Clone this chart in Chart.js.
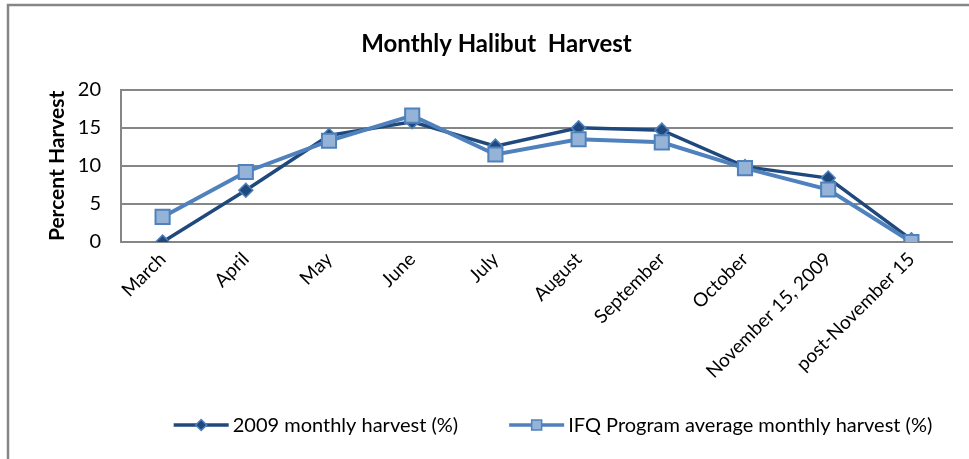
<!DOCTYPE html>
<html>
<head>
<meta charset="utf-8">
<script src="https://cdn.jsdelivr.net/npm/chart.js@4/dist/chart.umd.min.js"></script>
<style>
  html, body { margin: 0; padding: 0; background: #fff; }
  #wrap { width: 969px; height: 459px; position: relative; }
</style>
</head>
<body>
<div id="wrap"><canvas id="harvestChart"></canvas></div>
<script>
const months = ['March', 'April', 'May', 'June', 'July', 'August', 'September', 'October', 'November 15, 2009', 'post-November 15'];
const harvest2009 = [0, 6.8, 14.0, 15.8, 12.6, 15.0, 14.7, 9.9, 8.4, 0.3];
const ifqAverage = [3.3, 9.2, 13.3, 16.6, 11.5, 13.5, 13.1, 9.7, 6.9, 0];
const yTicks = [0, 5, 10, 15, 20];

const FONT = "Lato, 'Open Sans', sans-serif";
const gridGray = '#868686';

// gray frame round the whole chart (cut off at right and bottom)
const frame = {
    id: 'frame',
    beforeDraw(chart) {
        const ctx = chart.ctx;
        ctx.save();
        ctx.strokeStyle = gridGray;
        ctx.lineWidth = 2.5;
        ctx.strokeRect(8, 5, 1000, 500);
        ctx.restore();
    }
};

// excel style legend: line with marker, then text
const lineLegend = {
    id: 'lineLegend',
    afterDraw(chart) {
        const ctx = chart.ctx;
        const sets = chart.data.datasets;
        const swW = 55, gap = 4, itemGap = 51;
        ctx.save();
        ctx.font = '20px ' + FONT;
        const widths = sets.map(ds => ctx.measureText(ds.label).width);
        const total = widths.reduce((a, w) => a + swW + gap + w, 0) + itemGap * (sets.length - 1);
        let x = 553 - total / 2;
        const y = 425;
        sets.forEach((ds, i) => {
            ctx.strokeStyle = ds.borderColor;
            ctx.lineWidth = 3.5;
            ctx.beginPath(); ctx.moveTo(x, y); ctx.lineTo(x + swW, y); ctx.stroke();
            const cx = x + swW / 2;
            ctx.fillStyle = ds.pointBackgroundColor;
            ctx.strokeStyle = ds.pointBorderColor;
            ctx.lineWidth = 1.5;
            ctx.beginPath();
            if (ds.pointStyle === 'rectRot') {
                ctx.moveTo(cx, y - 5.5); ctx.lineTo(cx + 5.5, y); ctx.lineTo(cx, y + 5.5); ctx.lineTo(cx - 5.5, y); ctx.closePath();
            } else {
                ctx.rect(cx - 5, y - 5, 10, 10);
            }
            ctx.fill(); ctx.stroke();
            ctx.fillStyle = '#000';
            ctx.textBaseline = 'middle';
            ctx.fillText(ds.label, x + swW + gap, y + 1);
            x += swW + gap + widths[i] + itemGap;
        });
        ctx.restore();
    }
};

new Chart(document.getElementById('harvestChart'), {
    type: 'line',
    data: {
        labels: months,
        datasets: [{
            label: '2009 monthly harvest (%)',
            data: harvest2009,
            borderColor: '#1F497D',
            borderWidth: 3.5,
            pointStyle: 'rectRot',
            pointRadius: 7,
            pointBackgroundColor: '#1F497D',
            pointBorderColor: '#4F81BD',
            pointBorderWidth: 1.5,
            tension: 0,
            order: 1
        }, {
            label: 'IFQ Program average monthly harvest (%)',
            data: ifqAverage,
            borderColor: '#4F81BD',
            borderWidth: 4,
            pointStyle: 'rect',
            pointRadius: 10,
            pointBackgroundColor: '#95B3D7',
            pointBorderColor: '#4F81BD',
            pointBorderWidth: 2,
            tension: 0,
            order: 0
        }]
    },
    options: {
        responsive: true,
        maintainAspectRatio: false,
        animation: false,
        layout: { padding: { left: 40, right: 16, top: 0, bottom: 0 } },
        plugins: {
            title: {
                display: true,
                text: 'Monthly Halibut  Harvest',
                color: '#000',
                font: { family: FONT, size: 24, weight: 'bold' },
                padding: { top: 30, bottom: 31 }
            },
            legend: { display: false },
            tooltip: { enabled: false }
        },
        scales: {
            x: {
                offset: true,
                grid: { display: false, drawTicks: false },
                border: { display: false },
                ticks: {
                    color: '#000',
                    font: { family: FONT, size: 19 },
                    maxRotation: 45,
                    minRotation: 45,
                    padding: 6,
                    autoSkip: false
                },
                afterFit: (axis) => { axis.height = 217; }
            },
            y: {
                min: 0,
                max: 20,
                afterBuildTicks: (axis) => { axis.ticks = yTicks.map(v => ({ value: v })); },
                grid: { color: gridGray, lineWidth: 2, drawTicks: false },
                border: { display: true, color: gridGray, width: 2 },
                ticks: {
                    color: '#000',
                    font: { family: FONT, size: 20 },
                    padding: 20
                },
                title: {
                    display: true,
                    text: 'Percent Harvest',
                    color: '#000',
                    font: { family: FONT, size: 21, weight: 'bold' },
                    padding: { top: 5, bottom: 0 }
                },
                afterFit: (axis) => { axis.width = 81; }
            }
        }
    },
    plugins: [frame, lineLegend]
});
</script>
</body>
</html>
